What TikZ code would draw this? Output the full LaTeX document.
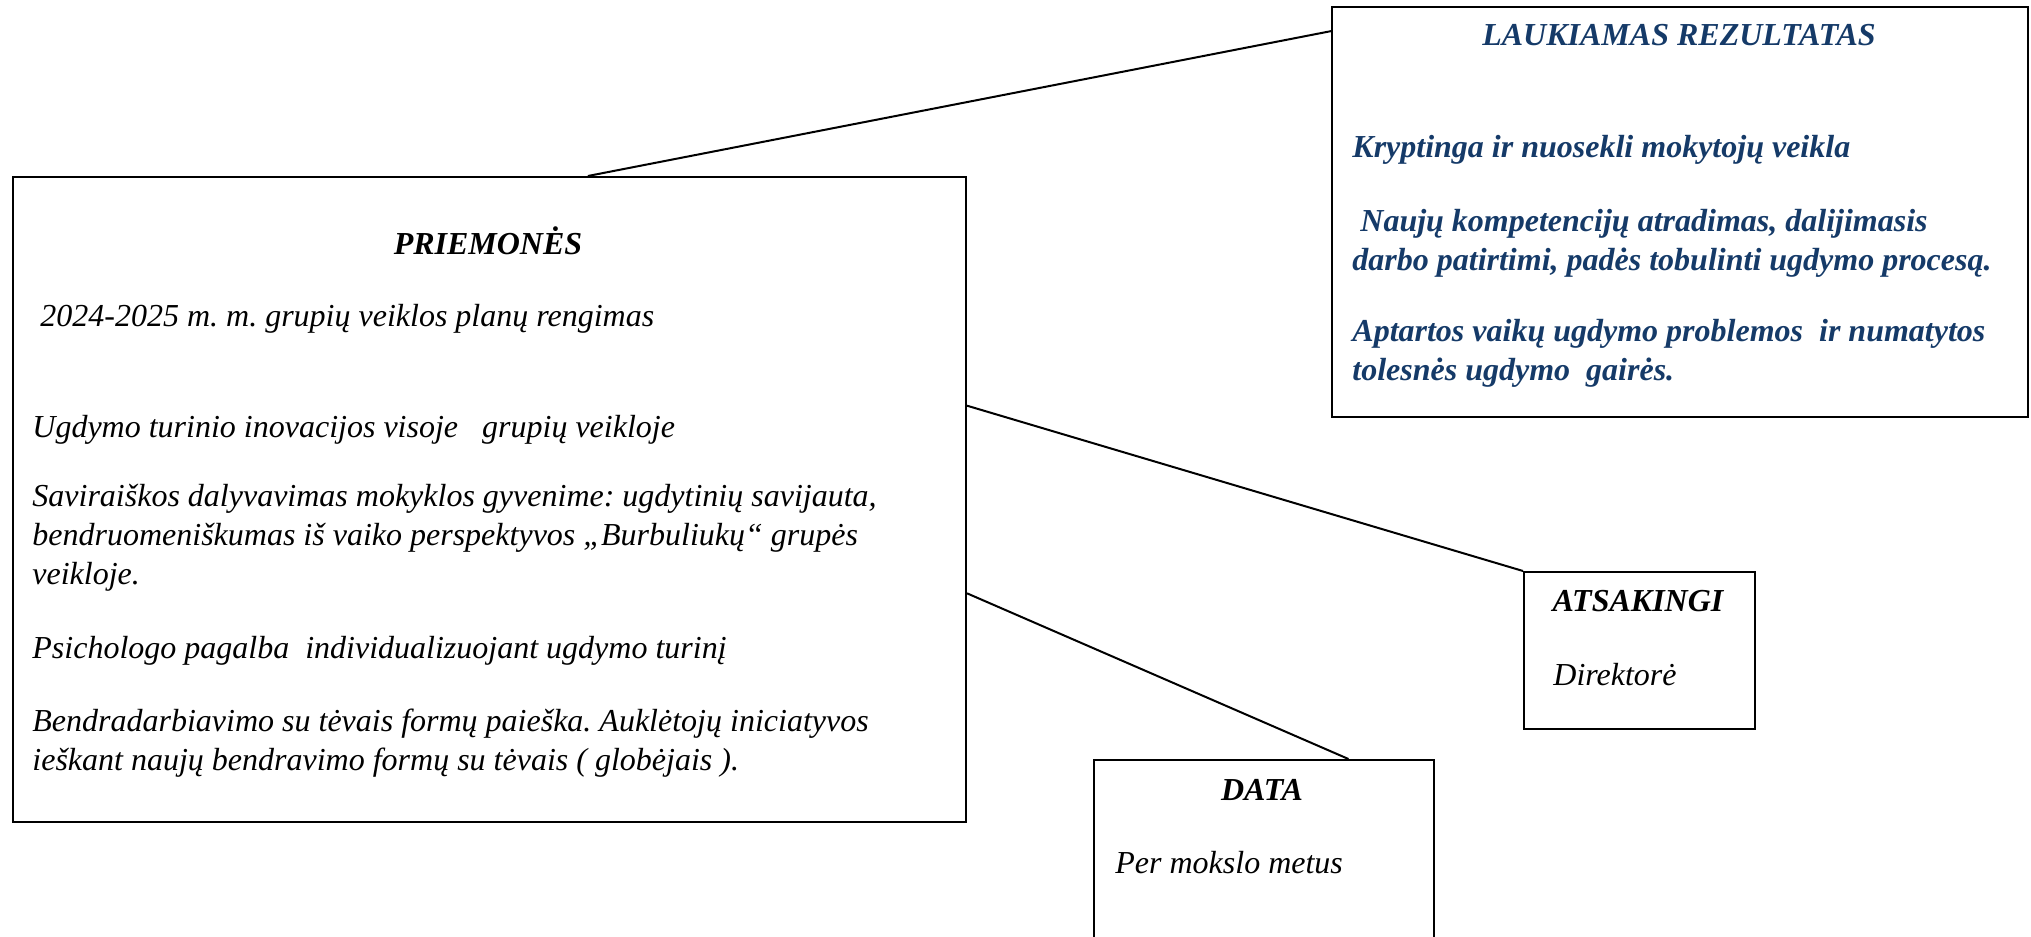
\documentclass[tikz,border=0pt]{standalone}
\usepackage{fontspec}
\setmainfont{Liberation Serif}
\usetikzlibrary{calc}
\definecolor{resblue}{HTML}{153A68}
\frenchspacing

\begin{document}
\begin{tikzpicture}[x=0.5pt, y=-0.5pt,
    box/.style={draw, line width=1pt, anchor=north west, inner sep=0pt},
    link/.style={line width=1pt},
    txt/.style={anchor=base west, inner sep=0pt, font=\fontsize{16}{19.5}\selectfont\itshape},
    head/.style={anchor=base, inner sep=0pt, font=\fontsize{16}{19.5}\selectfont\bfseries\itshape},
    restxt/.style={anchor=base west, inner sep=0pt, font=\fontsize{16}{19.5}\selectfont\bfseries\itshape, text=resblue}]
    \pgfmathsetmacro{\rowgap}{39}

    \clip (0,0) rectangle (2031,937);

    % boxes
    \node [box, minimum width=476.5pt, minimum height=322.5pt] (prm) at (12,176) {};
    \node [box, minimum width=348pt, minimum height=205pt] (res) at (1331,6) {};
    \node [box, minimum width=115.5pt, minimum height=78.5pt] (ats) at (1523,571) {};
    \node [box, minimum width=170pt, minimum height=120pt] (dat) at (1093,759) {};

    % links
    \draw [link] ($(prm.north west)!0.603!(prm.north east)$) -- ($(res.north west)!0.061!(res.south west)$);
    \draw [link] ($(prm.north east)!0.355!(prm.south east)$) -- (ats.north west);
    \draw [link] ($(prm.north east)!0.645!(prm.south east)$) -- ($(dat.north west)!0.747!(dat.north east)$);

    % priemones
    \node [head] (prmhead) at (488,254) {PRIEMONĖS};
    \node [txt] (prm1) at (40,326) {2024-2025 m. m. grupių veiklos planų rengimas};
    \node [txt] (prm2) at (32,437) {Ugdymo turinio inovacijos visoje\ \ \ grupių veikloje};
    \node [txt] (prm3a) at (32,506) {Saviraiškos dalyvavimas mokyklos gyvenime: ugdytinių savijauta,};
    \node [txt] (prm3b) at (32,506+\rowgap) {bendruomeniškumas iš vaiko perspektyvos „Burbuliukų“ grupės};
    \node [txt] (prm3c) at (32,506+2*\rowgap) {veikloje.};
    \node [txt] (prm4) at (32,658) {Psichologo pagalba\ \ individualizuojant ugdymo turinį};
    \node [txt] (prm5a) at (32,731) {Bendradarbiavimo su tėvais formų paieška. Auklėtojų iniciatyvos};
    \node [txt] (prm5b) at (32,731+\rowgap) {ieškant naujų bendravimo formų su tėvais ( globėjais ).};

    % laukiamas rezultatas
    \node [head, text=resblue] (reshead) at (1679,46) {LAUKIAMAS REZULTATAS};
    \node [restxt] (res1) at (1352,157) {Kryptinga ir nuosekli mokytojų veikla};
    \node [restxt] (res2a) at (1360,231) {Naujų kompetencijų atradimas, dalijimasis};
    \node [restxt] (res2b) at (1352,231+\rowgap) {darbo patirtimi, padės tobulinti ugdymo procesą.};
    \node [restxt] (res3a) at (1352,341) {Aptartos vaikų ugdymo problemos\ \ ir numatytos};
    \node [restxt] (res3b) at (1352,341+\rowgap) {tolesnės ugdymo\ \ gairės.};

    % atsakingi, data
    \node [head] (atshead) at (1638,611) {ATSAKINGI};
    \node [txt] (ats1) at (1553,685) {Direktorė};
    \node [head] (dathead) at (1262,800) {DATA};
    \node [txt] (dat1) at (1115,873) {Per mokslo metus};
\end{tikzpicture}
\end{document}
